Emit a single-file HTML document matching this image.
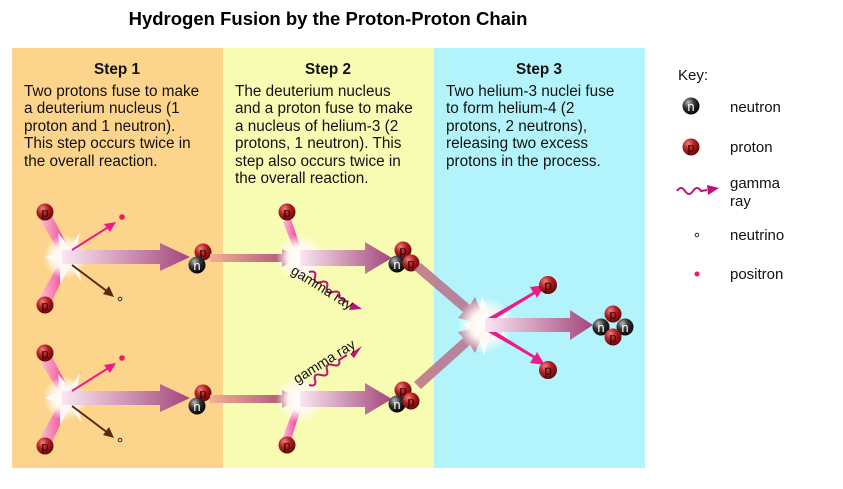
<!DOCTYPE html>
<html><head><meta charset="utf-8"><style>
html,body{margin:0;padding:0;background:#fff;}
svg{display:block;font-family:"Liberation Sans",sans-serif;}
</style></head><body>
<svg width="843" height="489" viewBox="0 0 843 489" xmlns="http://www.w3.org/2000/svg">
<defs>
<radialGradient id="pg" cx="0.35" cy="0.3" r="0.75"><stop offset="0" stop-color="#f08080"/><stop offset="0.45" stop-color="#b52020"/><stop offset="1" stop-color="#5a0808"/></radialGradient>
<radialGradient id="ng" cx="0.35" cy="0.3" r="0.75"><stop offset="0" stop-color="#bbb"/><stop offset="0.45" stop-color="#333"/><stop offset="1" stop-color="#000"/></radialGradient>
<linearGradient id="ag" x1="0" x2="1" y1="0" y2="0"><stop offset="0" stop-color="#fbe6f2"/><stop offset="1" stop-color="#a3467a"/></linearGradient>
<linearGradient id="ag2" x1="0" x2="1" y1="0" y2="0"><stop offset="0" stop-color="#f0b090"/><stop offset="1" stop-color="#a3467a"/></linearGradient>
<linearGradient id="pk" x1="0" x2="1"><stop offset="0" stop-color="#fbc0dc"/><stop offset="1" stop-color="#ee1a8a"/></linearGradient>
<radialGradient id="st"><stop offset="0" stop-color="#fff"/><stop offset="0.5" stop-color="#fff8f0"/><stop offset="1" stop-color="#fff" stop-opacity="0"/></radialGradient>
</defs>
<text x="328" y="25" font-size="18.5" font-weight="bold" text-anchor="middle">Hydrogen Fusion by the Proton-Proton Chain</text>
<rect x="12" y="48" width="211" height="420" fill="#fdd48c"/>
<rect x="223" y="48" width="211" height="420" fill="#f8fbb2"/>
<rect x="434" y="48" width="211" height="420" fill="#b3f4fc"/>
<g font-size="15.3" fill="#111">
<text x="117" y="74" font-weight="bold" text-anchor="middle">Step 1</text>
<text x="328" y="74" font-weight="bold" text-anchor="middle">Step 2</text>
<text x="539" y="74" font-weight="bold" text-anchor="middle">Step 3</text>
<text x="24" y="96">Two protons fuse to make</text>
<text x="24" y="113">a deuterium nucleus (1</text>
<text x="24" y="131">proton and 1 neutron).</text>
<text x="24" y="148">This step occurs twice in</text>
<text x="24" y="166">the overall reaction.</text>
<text x="235" y="96">The deuterium nucleus</text>
<text x="235" y="113">and a proton fuse to make</text>
<text x="235" y="131">a nucleus of helium-3 (2</text>
<text x="235" y="148">protons, 1 neutron). This</text>
<text x="235" y="166">step also occurs twice in</text>
<text x="235" y="183">the overall reaction.</text>
<text x="446" y="96">Two helium-3 nuclei fuse</text>
<text x="446" y="113">to form helium-4 (2</text>
<text x="446" y="131">protons, 2 neutrons),</text>
<text x="446" y="148">releasing two excess</text>
<text x="446" y="166">protons in the process.</text>
</g>
<!-- key -->
<g font-size="15" fill="#111">
<text x="678" y="80">Key:</text>
<text x="730" y="112">neutron</text>
<text x="730" y="152">proton</text>
<text x="730" y="188">gamma</text>
<text x="730" y="206">ray</text>
<text x="730" y="240">neutrino</text>
<text x="730" y="279">positron</text>
</g>
<circle cx="691" cy="106" r="8.5" fill="url(#ng)"/><text x="691" y="111" font-size="13" fill="#fff" text-anchor="middle">n</text>
<circle cx="691" cy="147" r="8.5" fill="url(#pg)"/><text x="691" y="152" font-size="13" fill="#300" text-anchor="middle">p</text>
<path d="M677 191 q4 -6 8 0 t8 0 t8 0 l6 -1" fill="none" stroke="#c0107a" stroke-width="2"/><polygon points="707,185 719,188 708,195" fill="#c0107a"/>
<circle cx="697" cy="235" r="1.8" fill="none" stroke="#333" stroke-width="1"/>
<circle cx="697" cy="274" r="2.5" fill="#ee1a5a"/>

<!-- step 1 rows -->
<g id="row1">
<polygon points="40,220 52,216 70,250 62,256" fill="url(#pk)" opacity="0.9"/>
<polygon points="40,297 52,301 70,263 62,258" fill="url(#pk)" opacity="0.9"/>
<polygon points="45,257 60,250 58,233 70,248 80,232 76,252 96,257 76,262 82,282 70,266 60,284 60,264" fill="#fff" opacity="0.9"/>
<circle cx="65" cy="257" r="22" fill="url(#st)"/>
<polygon points="62,250 160,250 160,243 190,257 160,271 160,264 62,264" fill="url(#ag)"/>
<line x1="72" y1="250" x2="110" y2="226" stroke="#ee1a8a" stroke-width="2"/><polygon points="116,222 104,224 110,232" fill="#ee1a8a"/>
<line x1="72" y1="265" x2="108" y2="292" stroke="#5a2a10" stroke-width="2"/><polygon points="114,297 103,294 109,286" fill="#5a2a10"/>
<circle cx="122" cy="217" r="2.8" fill="#ee1a5a"/>
<circle cx="120" cy="299" r="1.8" fill="none" stroke="#333"/>
<circle cx="45" cy="212" r="8.5" fill="url(#pg)"/><text x="45" y="217" font-size="13" fill="#300" text-anchor="middle">p</text>
<circle cx="45" cy="305" r="8.5" fill="url(#pg)"/><text x="45" y="310" font-size="13" fill="#300" text-anchor="middle">p</text>
<circle cx="203" cy="252" r="8.5" fill="url(#pg)"/><text x="203" y="257" font-size="13" fill="#300" text-anchor="middle">p</text>
<circle cx="197" cy="265" r="8.5" fill="url(#ng)"/><text x="197" y="270" font-size="13" fill="#fff" text-anchor="middle">n</text>
</g>
<use href="#row1" transform="translate(0,141)"/>

<!-- step 2 top -->
<polygon points="210,254 282,254 282,249 300,258 282,267 282,262 210,262" fill="url(#ag2)"/>
<polygon points="283,222 291,219 302,252 296,255" fill="url(#pk)"/>
<circle cx="300" cy="258" r="24" fill="url(#st)"/>
<polygon points="300,250 365,250 365,242 392,258 365,274 365,266 300,266" fill="url(#ag)"/>
<circle cx="287" cy="212" r="8.5" fill="url(#pg)"/><text x="287" y="217" font-size="13" fill="#300" text-anchor="middle">p</text>
<path d="M309 272 q8 -2 6 5 t6 5 t6 5 t6 5 t6 5 l8 5" fill="none" stroke="#c0107a" stroke-width="2"/>
<polygon points="352,302 362,309 349,310" fill="#c0107a"/>
<text transform="translate(290,273) rotate(32)" font-size="14" fill="#111">gamma ray</text>
<circle cx="403" cy="250" r="8.5" fill="url(#pg)"/><text x="403" y="255" font-size="13" fill="#300" text-anchor="middle">p</text>
<circle cx="397" cy="264" r="8.5" fill="url(#ng)"/><text x="397" y="269" font-size="13" fill="#fff" text-anchor="middle">n</text>
<circle cx="411" cy="263" r="8.5" fill="url(#pg)"/><text x="411" y="268" font-size="13" fill="#300" text-anchor="middle">p</text>

<!-- step 2 bottom -->
<polygon points="210,395 282,395 282,390 300,399 282,408 282,403 210,403" fill="url(#ag2)"/>
<polygon points="283,437 291,440 302,405 296,402" fill="url(#pk)"/>
<circle cx="300" cy="399" r="24" fill="url(#st)"/>
<polygon points="300,391 365,391 365,383 392,399 365,415 365,407 300,407" fill="url(#ag)"/>
<circle cx="287" cy="445" r="8.5" fill="url(#pg)"/><text x="287" y="450" font-size="13" fill="#300" text-anchor="middle">p</text>
<path d="M309 385 q8 2 6 -5 t6 -5 t6 -5 t6 -5 t6 -5 l8 -5" fill="none" stroke="#c0107a" stroke-width="2"/>
<polygon points="350,354 362,346 354,358" fill="#c0107a"/>
<text transform="translate(297,384) rotate(-32)" font-size="14" fill="#111">gamma ray</text>
<circle cx="403" cy="390" r="8.5" fill="url(#pg)"/><text x="403" y="395" font-size="13" fill="#300" text-anchor="middle">p</text>
<circle cx="397" cy="404" r="8.5" fill="url(#ng)"/><text x="397" y="409" font-size="13" fill="#fff" text-anchor="middle">n</text>
<circle cx="411" cy="401" r="8.5" fill="url(#pg)"/><text x="411" y="406" font-size="13" fill="#300" text-anchor="middle">p</text>

<!-- step 3 -->
<polygon points="414,270 421,263 470,305 475,297 487,325 458,318 463,312" fill="#b9708a" opacity="0.85"/>
<polygon points="414,382 421,389 470,345 475,353 487,325 458,332 463,338" fill="#b9708a" opacity="0.85"/>
<polygon points="462,325 478,318 482,296 490,316 512,312 494,325 510,340 490,334 484,356 478,332" fill="#fff" opacity="0.95"/>
<circle cx="485" cy="325" r="28" fill="url(#st)"/>
<polygon points="488,318 533,292 530,287 545,285 537,298 535,294 490,322" fill="#ee1a8a"/>
<polygon points="488,332 533,358 530,363 545,365 537,352 535,356 490,328" fill="#ee1a8a"/>
<polygon points="485,318 570,318 570,310 593,325 570,340 570,332 485,332" fill="url(#ag)"/>
<circle cx="548" cy="285" r="9" fill="url(#pg)"/><text x="548" y="290" font-size="14" fill="#300" text-anchor="middle">p</text>
<circle cx="548" cy="370" r="9" fill="url(#pg)"/><text x="548" y="375" font-size="14" fill="#300" text-anchor="middle">p</text>
<circle cx="601" cy="327" r="8.5" fill="url(#ng)"/><text x="601" y="332" font-size="13" fill="#fff" text-anchor="middle">n</text>
<circle cx="625" cy="327" r="8.5" fill="url(#ng)"/><text x="625" y="332" font-size="13" fill="#fff" text-anchor="middle">n</text>
<circle cx="613" cy="314" r="8.5" fill="url(#pg)"/><text x="613" y="319" font-size="13" fill="#300" text-anchor="middle">p</text>
<circle cx="613" cy="337" r="8.5" fill="url(#pg)"/><text x="613" y="342" font-size="13" fill="#300" text-anchor="middle">p</text>
</svg>
</body></html>
